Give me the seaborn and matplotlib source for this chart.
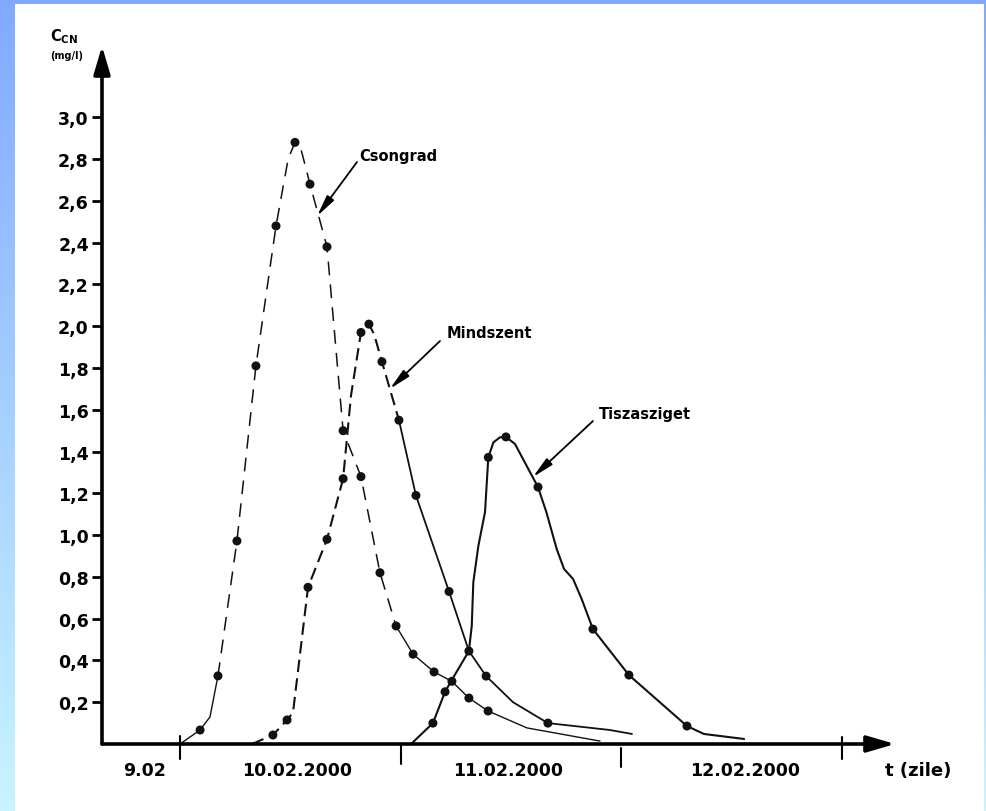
import matplotlib
matplotlib.use("Agg")
import matplotlib.pyplot as plt
import numpy as np
import pandas as pd
import seaborn as sns
from matplotlib.colors import LinearSegmentedColormap
from matplotlib.patches import Rectangle

# time in days counted from 09.02.2000 00:00, C_CN in mg/l
# curve outlines (hand-drawn paths) and the measured points on them
CSONGRAD_T = [1.00, 1.091, 1.136, 1.172, 1.258, 1.344, 1.435, 1.490, 1.521, 1.550, 1.589,
              1.666, 1.739, 1.820, 1.906, 1.979, 2.056, 2.151, 2.232, 2.309, 2.396,
              2.572, 2.903]
CSONGRAD_C = [0.00, 0.067, 0.13, 0.326, 0.972, 1.81, 2.48, 2.80, 2.88, 2.84, 2.68,
              2.38, 1.50, 1.28, 0.82, 0.565, 0.43, 0.345, 0.30, 0.22, 0.158,
              0.077, 0.014]
CSONGRAD_PTS_T = [1.091, 1.172, 1.258, 1.344, 1.435, 1.521, 1.589, 1.666, 1.739,
                  1.820, 1.906, 1.979, 2.056, 2.151, 2.232, 2.309, 2.396]
CSONGRAD_PTS_C = [0.067, 0.326, 0.972, 1.81, 2.48, 2.88, 2.68, 2.38, 1.50,
                  1.28, 0.82, 0.565, 0.43, 0.345, 0.30, 0.22, 0.158]

MINDSZENT_T = [1.326, 1.421, 1.485, 1.512, 1.580, 1.666, 1.739, 1.775, 1.820, 1.856,
               1.880, 1.915, 1.992, 2.069, 2.219, 2.309, 2.387, 2.509, 2.667, 2.948,
               3.048]
MINDSZENT_C = [0.00, 0.043, 0.115, 0.15, 0.75, 0.98, 1.27, 1.67, 1.97, 2.01,
               1.96, 1.83, 1.55, 1.19, 0.73, 0.445, 0.325, 0.20, 0.10, 0.067,
               0.048]
MINDSZENT_PTS_T = [1.421, 1.485, 1.580, 1.666, 1.739, 1.820, 1.856, 1.915,
                   1.992, 2.069, 2.219, 2.387, 2.667]
MINDSZENT_PTS_C = [0.043, 0.115, 0.75, 0.98, 1.27, 1.97, 2.01, 1.83,
                   1.55, 1.19, 0.73, 0.325, 0.10]

TISZA_T = [2.047, 2.146, 2.201, 2.228, 2.309, 2.322, 2.329, 2.352, 2.382, 2.397,
           2.420, 2.450, 2.477, 2.518, 2.622, 2.660, 2.707, 2.740, 2.781, 2.820,
           2.871, 3.034, 3.297, 3.374, 3.556]
TISZA_C = [0.00, 0.10, 0.25, 0.30, 0.445, 0.566, 0.774, 0.949, 1.11, 1.372,
           1.444, 1.468, 1.47, 1.436, 1.23, 1.11, 0.933, 0.838, 0.79, 0.694,
           0.55, 0.33, 0.086, 0.048, 0.024]
TISZA_PTS_T = [2.146, 2.201, 2.309, 2.397, 2.477, 2.622, 2.871, 3.034, 3.297]
TISZA_PTS_C = [0.10, 0.25, 0.445, 1.372, 1.47, 1.23, 0.55, 0.33, 0.086]

Y_TICKS = [0.2, 0.4, 0.6, 0.8, 1.0, 1.2, 1.4, 1.6, 1.8, 2.0, 2.2, 2.4, 2.6, 2.8, 3.0]
Y_TICK_LABELS = ["0,2", "0,4", "0,6", "0,8", "1,0", "1,2", "1,4", "1,6", "1,8",
                 "2,0", "2,2", "2,4", "2,6", "2,8", "3,0"]
DAY_TICKS = [1, 2, 3, 4]
DAY_LABELS = ["9.02", "10.02.2000", "11.02.2000", "12.02.2000"]
DAY_LABEL_POS = [0.841, 1.530, 2.486, 3.560]

W, H = 987, 812
sns.set_theme(style="white")
plt.rcParams["font.family"] = ["DejaVu Sans"]
for key in ["text.color", "axes.labelcolor", "xtick.color", "ytick.color"]:
    plt.rcParams[key] = "black"

fig = plt.figure(figsize=(W / 100, H / 100), dpi=100)

# blue gradient frame with white panel
bg = fig.add_axes([0, 0, 1, 1], zorder=-2)
grad = LinearSegmentedColormap.from_list("frame", ["#80aaff", "#c8f4ff"])
bg.imshow(np.linspace(0, 1, 256).reshape(-1, 1), cmap=grad, aspect="auto",
          extent=[0, 1, 0, 1], origin="upper")
bg.add_patch(Rectangle((15 / W, 0), (984 - 15) / W, 1 - 5 / H,
                       transform=bg.transAxes, color="white", lw=0))
bg.set_axis_off()

# axes sized so the axis lines and arrows land where the original has them
x0_px, x1_px, y0_px, y1_px = 102, 895, 745, 47
ax = fig.add_axes([x0_px / W, 1 - y0_px / H, (x1_px - x0_px) / W, (y0_px - y1_px) / H])
ax.patch.set_alpha(0)
px_per_day, px_per_unit = 220.7, 208.9
xmin = 1 + (x0_px - 180) / px_per_day
xmax = 1 + (x1_px - 180) / px_per_day
ymax = (y0_px - y1_px) / px_per_unit
ax.set_xlim(xmin, xmax)
ax.set_ylim(0, ymax)
for s in ax.spines.values():
    s.set_visible(False)

ink = "#111111"
line_kw = dict(ax=ax, x="t", y="c", sort=False, estimator=None, color=ink)

# Csongrad: thin, solid at the foot and on the tail, dashed in between
cs = pd.DataFrame({"t": CSONGRAD_T, "c": CSONGRAD_C})
sns.lineplot(data=cs.iloc[:4], lw=1.0, **line_kw)
sns.lineplot(data=cs.iloc[3:16], lw=1.1, linestyle=(0, (9, 6)), **line_kw)
sns.lineplot(data=cs.iloc[15:], lw=1.0, **line_kw)

# Mindszent: heavier dashes up to the descent, then solid
md = pd.DataFrame({"t": MINDSZENT_T, "c": MINDSZENT_C})
sns.lineplot(data=md.iloc[:13], lw=1.5, linestyle=(0, (6, 3)), **line_kw)
sns.lineplot(data=md.iloc[12:], lw=1.3, **line_kw)

# Tiszasziget: solid
tz = pd.DataFrame({"t": TISZA_T, "c": TISZA_C})
sns.lineplot(data=tz, lw=1.5, **line_kw)

for pt, pc in [(CSONGRAD_PTS_T, CSONGRAD_PTS_C), (MINDSZENT_PTS_T, MINDSZENT_PTS_C),
               (TISZA_PTS_T, TISZA_PTS_C)]:
    sns.scatterplot(x=pt, y=pc, ax=ax, color=ink, s=42, edgecolor="none",
                    zorder=5, clip_on=False)

# axis lines with arrow heads
arrow_kw = dict(arrowstyle="-|>,head_length=0.85,head_width=0.25", lw=2.6,
                color="black", mutation_scale=20, shrinkA=0, shrinkB=0)
ax.annotate("", xy=(xmax, 0), xytext=(xmin, 0), arrowprops=arrow_kw,
            annotation_clip=False)
ax.annotate("", xy=(xmin, ymax), xytext=(xmin, 0), arrowprops=arrow_kw,
            annotation_clip=False)

# y ticks
ax.set_yticks(Y_TICKS)
ax.set_yticklabels(Y_TICK_LABELS, fontsize=12.5, fontweight="bold")
ax.set_xticks([])
ax.tick_params(axis="y", direction="out", length=7, width=2, pad=2.5,
               color="black", left=True)

# day boundary ticks (first and last cross the axis)
tick_spans = [(-0.07, 0.04), (-0.095, 0.0), (-0.11, -0.02), (-0.07, 0.035)]
for d, (lo, hi) in zip(DAY_TICKS, tick_spans):
    ax.plot([d, d], [lo, hi], color="black", lw=1.5, clip_on=False)
for pos, lab in zip(DAY_LABEL_POS, DAY_LABELS):
    ax.text(pos, -0.125, lab, ha="center", va="center", fontsize=12.5,
            fontweight="bold", clip_on=False)
ax.text(4.344, -0.125, "t (zile)", ha="center", va="center", fontsize=13,
        fontweight="bold", clip_on=False)

# y axis title
fig.text(50 / W, 1 - 37 / H, r"$\mathbf{C}_{\mathbf{CN}}$", ha="left", va="center",
         fontsize=10.5)
fig.text(50 / W, 1 - 56 / H, "(mg/l)", ha="left", va="center", fontsize=7,
         fontweight="bold")

# curve labels with pointer arrows
lab_kw = dict(arrowstyle="-|>,head_length=0.8,head_width=0.16", lw=1.3,
              color="black", mutation_scale=16, shrinkA=0, shrinkB=0)
for name, txt_xy, tail, tip in [
    ("Csongrad", (1.811, 2.815), (1.802, 2.786), (1.621, 2.527)),
    ("Mindszent", (2.210, 1.972), (2.178, 1.929), (1.951, 1.70)),
    ("Tiszasziget", (2.898, 1.58), (2.871, 1.546), (2.599, 1.278)),
]:
    ax.text(*txt_xy, name, ha="left", va="center", fontsize=10.5, fontweight="bold")
    ax.annotate("", xy=tip, xytext=tail, arrowprops=lab_kw)

ax.set_xlabel("")
ax.set_ylabel("")

fig.savefig("out.png", dpi=100)
